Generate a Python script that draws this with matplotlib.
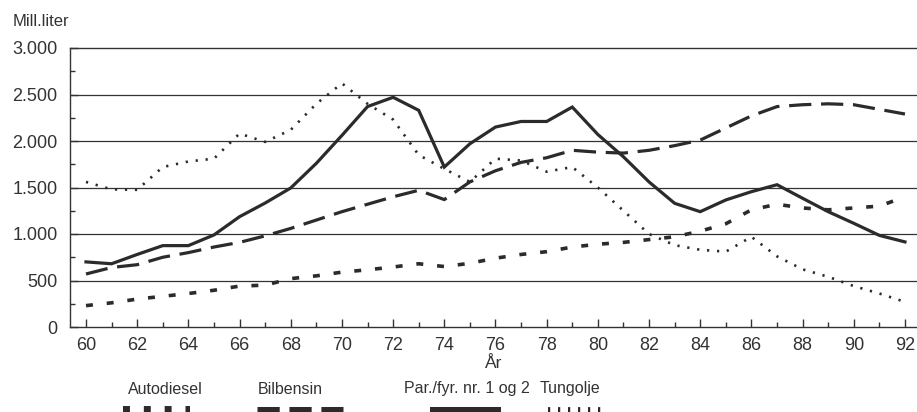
import numpy as np
import matplotlib
matplotlib.use('Agg')
import matplotlib.pyplot as plt
from matplotlib.lines import Line2D
from matplotlib.ticker import MultipleLocator, FuncFormatter

plt.rcParams['font.family'] = ['Liberation Sans', 'DejaVu Sans']
plt.rcParams['lines.scale_dashes'] = False

years = list(range(60, 93))

autodiesel = [230, 260, 300, 330, 360, 395, 440, 450, 520, 550,
              590, 615, 645, 680, 650, 685, 740, 780, 810, 860,
              890, 910, 940, 970, 1030, 1110, 1260, 1320, 1280, 1260,
              1280, 1300, 1400]
bilbensin = [570, 640, 670, 750, 800, 860, 910, 980, 1060, 1150,
             1240, 1320, 1400, 1470, 1370, 1560, 1680, 1770, 1820, 1900,
             1880, 1870, 1900, 1950, 2010, 2140, 2270, 2370, 2390, 2400,
             2390, 2340, 2290]
parafin = [700, 680, 780, 875, 875, 990, 1186, 1333, 1495, 1760,
           2060, 2370, 2470, 2330, 1720, 1970, 2150, 2210, 2210, 2365,
           2070, 1830, 1560, 1330, 1240, 1366, 1455, 1530, 1384, 1240,
           1115, 985, 915]
tungolje = [1560, 1480, 1475, 1720, 1780, 1810, 2080, 1990, 2120, 2400,
            2620, 2400, 2230, 1850, 1700, 1560, 1810, 1790, 1670, 1720,
            1500, 1250, 1000, 880, 830, 810, 970, 760, 620, 540,
            440, 360, 270]

labels = ['Autodiesel', 'Bilbensin', 'Par./fyr. nr. 1 og 2', 'Tungolje']

col = '#2b2b2b'
styles = [dict(lw=2.6, dashes=(5, 10), dash_capstyle='butt'),
          dict(lw=2.3, dashes=(16, 7), dash_capstyle='butt'),
          dict(lw=2.3, solid_joinstyle='miter'),
          dict(lw=1.9, dashes=(1.6, 5.6), dash_capstyle='butt')]

fig = plt.figure(figsize=(9.17, 4.12), dpi=100)
ax = fig.add_axes([70 / 917, 1 - 327 / 412, 1 - 70 / 917, (327 - 48) / 412])

for v in range(500, 3000, 500):
    ax.axhline(v, color='#333333', lw=0.9, zorder=1)

for series, st in zip([autodiesel, bilbensin, parafin, tungolje], styles):
    ax.plot(years, series, color=col, zorder=3, **st)

ax.set_xlim(59.375, 92.47)
ax.set_ylim(0, 3000)
ax.spines['right'].set_visible(False)
for s in ['left', 'bottom', 'top']:
    ax.spines[s].set_linewidth(1.0)
    ax.spines[s].set_color('#333333')

ax.xaxis.set_major_locator(MultipleLocator(2))
ax.xaxis.set_minor_locator(MultipleLocator(1))
ax.yaxis.set_major_locator(MultipleLocator(500))
ax.yaxis.set_minor_locator(MultipleLocator(250))
ax.yaxis.set_major_formatter(FuncFormatter(lambda v, p: f'{int(v):,}'.replace(',', '.')))
ax.tick_params(axis='both', which='major', direction='in', length=6, width=1,
               color='#333333', labelsize=13, labelcolor='#333333')
ax.tick_params(axis='both', which='minor', direction='in', length=3.5, width=1,
               color='#333333')
ax.tick_params(axis='x', which='both', top=False, pad=7)
ax.tick_params(axis='y', which='both', right=False, pad=9)

ax.set_xlabel('År', fontsize=12.5, color='#333333', labelpad=2)
fig.text(13 / 917, 1 - 22 / 412, 'Mill.liter', fontsize=12, color='#333333',
         ha='left', va='center')

# legend drawn by hand below the axes
text_x = [165, 290, 467, 570]
sample_x = [(123, 190), (257, 343), (433, 497), (548, 608)]
for lab, tx, (x0, x1), st in zip(labels, text_x, sample_x, styles):
    fig.text(tx / 917, 1 - 389 / 412, lab, fontsize=11.5, color='#333333',
             ha='center', va='center')
    st2 = dict(st)
    st2['lw'] = st['lw'] * 2.2
    fig.add_artist(Line2D([x0 / 917, x1 / 917], [2 / 412, 2 / 412],
                          color=col, transform=fig.transFigure, **st2))

fig.savefig('out.png', dpi=100)
